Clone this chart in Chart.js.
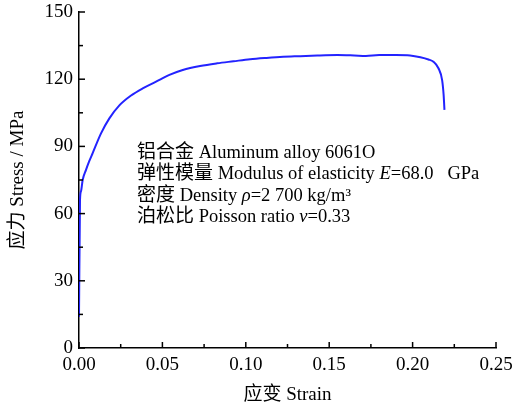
<!DOCTYPE html>
<html>
<head>
<meta charset="utf-8">
<script src="https://cdn.jsdelivr.net/npm/chart.js@4"></script>
<style>
  body { margin: 0; background: #fff; }
</style>
</head>
<body>
<canvas id="chart" width="512" height="410"></canvas>
<script>
// Stress-strain curve
const strain = [0, 0.0006, 0.0012, 0.0022, 0.0042, 0.0062, 0.0082, 0.0132, 0.0182, 0.0242, 0.0312, 0.0382, 0.0462, 0.0542, 0.0622, 0.0726, 0.0828, 0.0926, 0.1026, 0.1124, 0.1224, 0.1326, 0.1429, 0.155, 0.165, 0.172, 0.18, 0.19, 0.1985, 0.2047, 0.2095, 0.2125, 0.2155, 0.2177, 0.2186, 0.2191];
const stress = [14, 66, 70, 75, 79.5, 83.5, 87, 95.8, 102.5, 108.3, 112.7, 115.9, 118.9, 121.9, 124.1, 125.9, 127.1, 128, 128.9, 129.5, 130, 130.3, 130.6, 130.8, 130.6, 130.4, 130.8, 130.8, 130.6, 129.8, 128.8, 127.8, 124.9, 119.6, 113, 106.3];

const xTitle = "应变 Strain";
const yTitle = "应力 Stress / MPa";

// annotation lines: [text, style] pieces
const notes = [
    [["铝合金", "cjk"], [" Aluminum alloy 6061O", "serif"]],
    [["弹性模量", "cjk"], [" Modulus of elasticity ", "serif"], ["E", "italic"], ["=68.0   GPa", "serif"]],
    [["密度", "cjk"], [" Density ", "serif"], ["ρ", "italic"], ["=2 700 kg/m³", "serif"]],
    [["泊松比", "cjk"], [" Poisson ratio ", "serif"], ["ν", "italic"], ["=0.33", "serif"]],
];

const fonts = {
    cjk: '19px "Noto Sans CJK SC"',
    serif: '18.5px "Liberation Serif"',
    italic: 'italic 18.5px "Liberation Serif"',
};

// ticks pointing into the plot area, plus the text block
const inwardTicks = {
    id: "inwardTicks",
    afterDraw(chart) {
        const ctx = chart.ctx;
        const area = chart.chartArea;
        ctx.save();
        ctx.strokeStyle = "#000";
        ctx.lineWidth = 1.5;
        chart.scales.x.ticks.forEach(t => {
            const px = chart.scales.x.getPixelForValue(t.value);
            const len = t.label ? 6 : 4;
            ctx.beginPath();
            ctx.moveTo(px, area.bottom);
            ctx.lineTo(px, area.bottom - len);
            ctx.stroke();
        });
        chart.scales.y.ticks.forEach(t => {
            const py = chart.scales.y.getPixelForValue(t.value);
            const len = t.label ? 6 : 4;
            ctx.beginPath();
            ctx.moveTo(area.left, py);
            ctx.lineTo(area.left + len, py);
            ctx.stroke();
        });

        ctx.fillStyle = "#000";
        ctx.textBaseline = "alphabetic";
        notes.forEach((line, i) => {
            let x = 137;
            const y = 158 + i * 21.3;
            line.forEach(([txt, style]) => {
                ctx.font = fonts[style];
                ctx.fillText(txt, x, y);
                x += ctx.measureText(txt).width;
            });
        });
        ctx.restore();
    }
};

new Chart(document.getElementById("chart"), {
    type: "scatter",
    data: {
        datasets: [{
            data: strain.map((s, i) => ({ x: s, y: stress[i] })),
            showLine: true,
            borderColor: "rgb(35,35,255)",
            borderWidth: 2,
            pointRadius: 0,
            cubicInterpolationMode: "monotone",
        }],
    },
    options: {
        responsive: false,
        animation: false,
        layout: { padding: { top: 12, right: 16, left: 0, bottom: 0 } },
        plugins: {
            legend: { display: false },
            tooltip: { enabled: false },
        },
        scales: {
            x: {
                type: "linear",
                min: 0,
                max: 0.25,
                grid: { drawOnChartArea: false, drawTicks: false },
                border: { display: true, color: "#000", width: 1.5 },
                ticks: {
                    stepSize: 0.025,
                    padding: 6,
                    color: "#000",
                    font: { family: "Liberation Serif", size: 19 },
                    maxRotation: 0,
                    autoSkip: false,
                    callback: v => Math.round(v * 1000) % 50 === 0 ? v.toFixed(2) : "",
                },
                title: {
                    display: true,
                    text: xTitle,
                    color: "#000",
                    font: { family: "'Liberation Serif', 'Noto Sans CJK SC'", size: 19 },
                    padding: { top: 0, bottom: 4 },
                },
                afterFit: s => { s.height = 62; s.paddingLeft = 0; s.paddingRight = 0; },
            },
            y: {
                min: 0,
                max: 150,
                grid: { drawOnChartArea: false, drawTicks: false },
                border: { display: true, color: "#000", width: 1.5 },
                ticks: {
                    stepSize: 15,
                    padding: 6,
                    color: "#000",
                    font: { family: "Liberation Serif", size: 19 },
                    autoSkip: false,
                    callback: v => v % 30 === 0 ? String(v) : "",
                },
                title: {
                    display: true,
                    text: yTitle,
                    color: "#000",
                    font: { family: "'Liberation Serif', 'Noto Sans CJK SC'", size: 19 },
                    padding: { top: 7, bottom: 0 },
                },
                afterFit: s => { s.width = 79; s.paddingTop = 0; s.paddingBottom = 0; },
            },
        },
    },
    plugins: [inwardTicks],
});
</script>
</body>
</html>
